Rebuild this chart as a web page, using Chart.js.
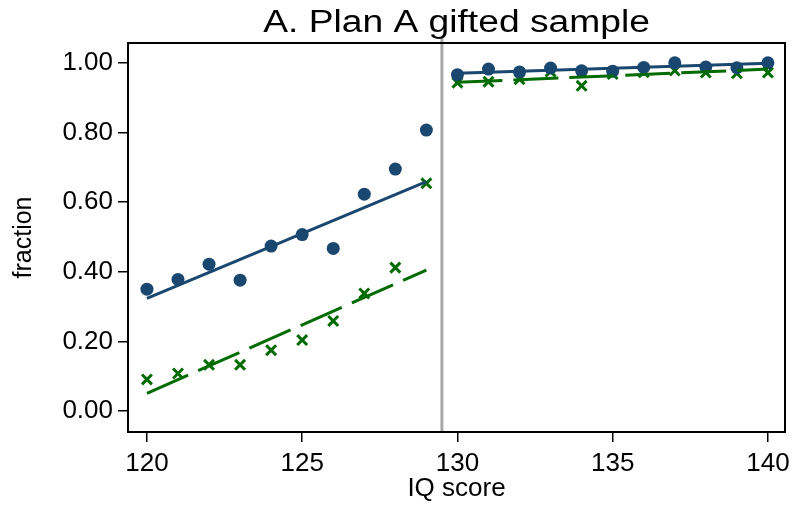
<!DOCTYPE html>
<html>
<head>
<meta charset="utf-8">
<script src="https://cdn.jsdelivr.net/npm/chart.js@4/dist/chart.umd.min.js"></script>
<style>
  html, body { margin: 0; padding: 0; background: #fff; }
  #wrap { width: 797px; height: 506px; }
</style>
</head>
<body>
<div id="wrap"><canvas id="gifted-chart"></canvas></div>
<script>
const iqScores = [120, 121, 122, 123, 124, 125, 126, 127, 128, 129,
    130, 131, 132, 133, 134, 135, 136, 137, 138, 139, 140];
const circleShare = [0.350, 0.378, 0.422, 0.376, 0.474, 0.507, 0.467, 0.623, 0.695, 0.807,
    0.966, 0.982, 0.974, 0.985, 0.977, 0.976, 0.987, 1.000, 0.988, 0.986, 1.000];
const crossShare = [0.091, 0.108, 0.133, 0.133, 0.175, 0.204, 0.259, 0.338, 0.412, 0.654,
    0.943, 0.946, 0.953, 0.975, 0.934, 0.968, 0.973, 0.978, 0.972, 0.970, 0.972];

// fitted line endpoints on each side of the cutoff
const fitLeftX = [120, 129];
const fitRightX = [130, 140];
const circleFitLeft = [0.324, 0.659];
const circleFitRight = [0.970, 0.999];
const crossFitLeft = [0.051, 0.405];
const crossFitRight = [0.944, 0.982];

const cutoff = 129.5;
const xTickValues = [120, 125, 130, 135, 140];
const yTickValues = [0, 0.2, 0.4, 0.6, 0.8, 1.0];

const titleText = 'A. Plan A gifted sample';
const navy = '#1a476f';
const green = '#006b00';
const fontFamily = '"Liberation Sans", Arial, sans-serif';

const toPoints = (xs, ys) => xs.map((x, i) => ({ x, y: ys[i] }));

const fitLine = (xs, ys, color, dash) => ({
    type: 'line',
    data: toPoints(xs, ys),
    borderColor: color,
    borderWidth: 3,
    borderDash: dash,
    borderCapStyle: 'butt',
    pointRadius: 0,
    fill: false,
    order: 1,
});

const titlePlugin = {
    id: 'stretchedTitle',
    afterDraw(chart) {
        const { ctx, chartArea } = chart;
        ctx.save();
        ctx.fillStyle = '#000';
        ctx.font = `31px ${fontFamily}`;
        ctx.textAlign = 'center';
        ctx.textBaseline = 'alphabetic';
        ctx.translate((chartArea.left + chartArea.right) / 2, 32);
        ctx.scale(1.2, 1);
        ctx.fillText(titleText, 0, 0);
        ctx.restore();
    },
};

const cutoffPlugin = {
    id: 'cutoffLine',
    beforeDatasetsDraw(chart) {
        const { ctx, chartArea, scales } = chart;
        const x = scales.x.getPixelForValue(cutoff);
        ctx.save();
        ctx.strokeStyle = '#a9a9a9';
        ctx.lineWidth = 3;
        ctx.beginPath();
        ctx.moveTo(x, chartArea.top - 6);
        ctx.lineTo(x, chartArea.bottom);
        ctx.stroke();
        ctx.restore();
    },
};

const boxPlugin = {
    id: 'plotBox',
    afterDatasetsDraw(chart) {
        const { ctx, chartArea } = chart;
        ctx.save();
        ctx.strokeStyle = '#000';
        ctx.lineWidth = 2;
        ctx.strokeRect(chartArea.left, chartArea.top,
            chartArea.right - chartArea.left, chartArea.bottom - chartArea.top);
        ctx.restore();
    },
};

const tickStyle = {
    display: true,
    drawOnChartArea: false,
    drawTicks: true,
    tickLength: 10,
    color: '#000',
    lineWidth: 1.5,
};

new Chart(document.getElementById('gifted-chart'), {
    data: {
        datasets: [
            {
                type: 'scatter',
                data: toPoints(iqScores, circleShare),
                pointStyle: 'circle',
                pointRadius: 6.5,
                pointBackgroundColor: navy,
                pointBorderColor: navy,
                pointBorderWidth: 0,
                order: 2,
            },
            {
                type: 'scatter',
                data: toPoints(iqScores, crossShare),
                pointStyle: 'crossRot',
                pointRadius: 7,
                pointBorderColor: green,
                pointBorderWidth: 3,
                order: 2,
            },
            fitLine(fitLeftX, circleFitLeft, navy, []),
            fitLine(fitRightX, circleFitRight, navy, []),
            fitLine(fitLeftX, crossFitLeft, green, [45, 11]),
            fitLine(fitRightX, crossFitRight, green, [45, 11]),
        ],
    },
    options: {
        responsive: true,
        maintainAspectRatio: false,
        animation: false,
        events: [],
        layout: {
            padding: { top: 43, right: 12, left: 0, bottom: 0 },
        },
        plugins: {
            legend: { display: false },
            tooltip: { enabled: false },
        },
        scales: {
            x: {
                type: 'linear',
                min: 119.39,
                max: 140.55,
                grid: tickStyle,
                border: { display: false },
                afterBuildTicks: (scale) => {
                    scale.ticks = xTickValues.map((value) => ({ value }));
                },
                afterFit: (scale) => {
                    scale.height = 74;
                },
                ticks: {
                    color: '#000',
                    padding: 6,
                    maxRotation: 0,
                    font: { family: fontFamily, size: 26 },
                    callback: (value) => String(value),
                },
                title: {
                    display: true,
                    text: 'IQ score',
                    color: '#000',
                    padding: { top: 0, bottom: 2 },
                    font: { family: fontFamily, size: 26 },
                },
            },
            y: {
                type: 'linear',
                min: -0.06,
                max: 1.057,
                grid: tickStyle,
                border: { display: false },
                afterBuildTicks: (scale) => {
                    scale.ticks = yTickValues.map((value) => ({ value }));
                },
                afterFit: (scale) => {
                    scale.width = 128;
                },
                ticks: {
                    color: '#000',
                    padding: 5,
                    font: { family: fontFamily, size: 26 },
                    callback: (value) => Number(value).toFixed(2),
                },
                title: {
                    display: true,
                    text: 'fraction',
                    color: '#000',
                    padding: { top: 9, bottom: 0 },
                    font: { family: fontFamily, size: 25 },
                },
            },
        },
    },
    plugins: [cutoffPlugin, boxPlugin, titlePlugin],
});
</script>
</body>
</html>
